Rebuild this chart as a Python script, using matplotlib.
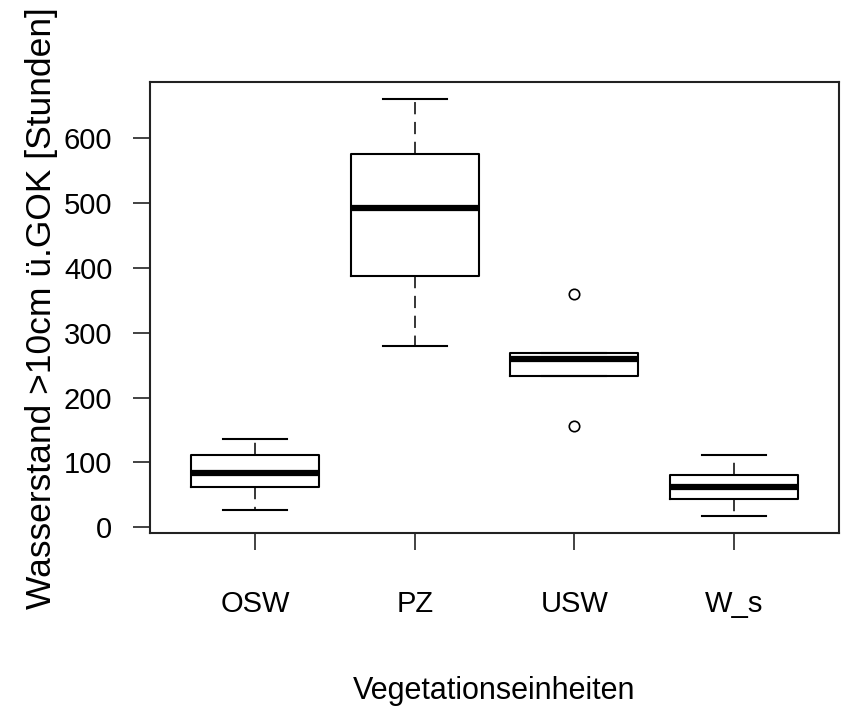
import matplotlib
matplotlib.use("Agg")
import matplotlib.pyplot as plt
from matplotlib import font_manager

# Kennwerte der Boxplots je Vegetationseinheit (Stunden)
gruppen = ["OSW", "PZ", "USW", "W_s"]
unterer_whisker = [27, 279, 233, 17]
q1 = [62, 387, 233, 44]
median = [84, 492, 260, 62]
q3 = [112, 576, 269, 80]
oberer_whisker = [136, 660, 269, 111]
ausreisser = [[], [], [156, 359], []]

y_ticks = [0, 100, 200, 300, 400, 500, 600]

namen = {f.name for f in font_manager.fontManager.ttflist}
schrift = "Liberation Sans Narrow" if "Liberation Sans Narrow" in namen else "Liberation Sans"
plt.rcParams["font.family"] = [schrift, "DejaVu Sans"]

fig = plt.figure(figsize=(8.42, 7.08), dpi=100)
ax = fig.add_axes([0.178, 0.2472, 0.8186, 0.6363])

stats = []
for i, g in enumerate(gruppen):
    stats.append(dict(label=g, whislo=unterer_whisker[i], q1=q1[i], med=median[i],
                      q3=q3[i], whishi=oberer_whisker[i], fliers=ausreisser[i]))

ax.bxp(stats, positions=range(1, len(gruppen) + 1), widths=0.8,
       boxprops=dict(color="black", linewidth=1.5),
       medianprops=dict(color="black", linewidth=4.5, solid_capstyle="butt"),
       whiskerprops=dict(color="black", linewidth=1.1, dashes=(8, 5)),
       capprops=dict(color="black", linewidth=1.5),
       capwidths=0.4,
       flierprops=dict(marker="o", markerfacecolor="none", markeredgecolor="black",
                       markersize=7.5, markeredgewidth=1.2, linestyle="none"))

ax.set_xlim(0.34, 4.66)
ax.set_ylim(-8.7, 685.7)
ax.set_yticks(y_ticks)
ax.set_yticklabels([str(v) for v in y_ticks])

for s in ax.spines.values():
    s.set_linewidth(1.5)
    s.set_color("#222222")

ax.tick_params(axis="both", length=12, width=1.2, color="#222222", labelsize=21)
ax.tick_params(axis="y", pad=15)
ax.tick_params(axis="x", pad=29)

ax.set_xlabel("Vegetationseinheiten", fontsize=22, labelpad=42)
ax.set_ylabel("Wasserstand >10cm ü.GOK [Stunden]", fontsize=25.5, labelpad=4)

fig.savefig("out.png", dpi=100)
